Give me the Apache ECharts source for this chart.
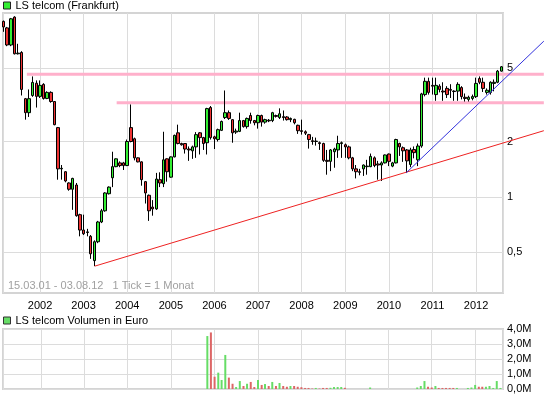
<!DOCTYPE html>
<html>
<head>
<meta charset="utf-8">
<title>LS telcom (Frankfurt)</title>
<script src="https://cdn.jsdelivr.net/npm/echarts@6/dist/echarts.min.js"></script>
<style>
  html, body { margin: 0; padding: 0; background: #fff; }
  #chart { width: 545px; height: 398px; }
</style>
</head>
<body>
<div id="chart"></div>
<script>
// one candle per month, first one is March 2001
const firstYear = 2001;
const firstMonth = 3;

// [open, close, low, high]
const candles = [
  // 2001 (Mar - Dec)
  [9.0, 8.4, 7.9, 9.1], [8.3, 6.7, 6.6, 8.4], [6.7, 9.3, 6.6, 9.4], [9.5, 6.0, 5.95, 9.6],
  [6.0, 6.05, 5.95, 6.8], [6.1, 3.84, 3.56, 6.2], [3.42, 2.87, 2.63, 3.45], [2.87, 3.42, 2.72, 3.84],
  [3.56, 4.19, 3.5, 4.52], [4.15, 3.52, 3.06, 4.3],
  // 2002
  [3.52, 4.04, 3.45, 4.3], [4.09, 3.43, 3.38, 4.15], [3.43, 3.7, 3.4, 3.75], [3.7, 3.3, 3.25, 3.75],
  [3.3, 2.47, 2.45, 3.32], [2.38, 1.42, 1.24, 2.4], [1.42, 1.43, 1.24, 1.49], [1.37, 1.22, 1.2, 1.38],
  [1.19, 1.1, 1.08, 1.2], [1.1, 1.26, 0.85, 1.27], [1.16, 0.79, 0.78, 1.19], [0.8, 0.66, 0.61, 0.81],
  // 2003
  [0.66, 0.63, 0.62, 0.8], [0.64, 0.645, 0.61, 0.67], [0.61, 0.49, 0.46, 0.62], [0.45, 0.57, 0.42, 0.58],
  [0.57, 0.73, 0.56, 0.74], [0.73, 0.84, 0.72, 0.86], [0.84, 1.05, 0.83, 1.06], [1.04, 1.13, 1.03, 1.14],
  [1.27, 1.46, 1.13, 1.76], [1.46, 1.61, 1.45, 1.62], [1.53, 1.48, 1.45, 1.56], [1.53, 1.48, 1.4, 1.55],
  // 2004
  [1.48, 2.0, 1.47, 2.05], [2.38, 2.0, 1.98, 3.18], [2.07, 1.63, 1.58, 2.1], [1.63, 1.55, 1.54, 1.64],
  [1.55, 1.24, 1.15, 1.56], [1.21, 1.05, 0.92, 1.22], [1.02, 0.84, 0.74, 1.03], [0.88, 0.86, 0.79, 0.96],
  [0.86, 1.25, 0.85, 1.35], [1.24, 1.19, 1.13, 1.36], [1.18, 1.59, 1.13, 2.26], [1.61, 1.37, 1.21, 1.62],
  // 2005
  [1.28, 1.65, 1.27, 1.66], [1.65, 2.16, 1.64, 2.18], [2.23, 1.95, 1.93, 2.47], [1.95, 1.92, 1.9, 1.97],
  [1.95, 1.82, 1.72, 1.96], [1.82, 1.8, 1.57, 1.88], [1.78, 1.87, 1.61, 1.9], [1.87, 2.18, 1.63, 2.25],
  [2.23, 2.1, 1.7, 2.25], [2.1, 1.95, 1.8, 2.12], [1.97, 3.02, 1.7, 3.05], [3.06, 2.1, 2.05, 3.12],
  // 2006
  [2.12, 2.07, 1.82, 2.15], [2.05, 2.32, 2.0, 2.35], [2.3, 2.57, 2.28, 2.6], [2.7, 2.87, 2.65, 3.79],
  [2.87, 2.67, 2.62, 2.95], [2.63, 2.23, 1.97, 2.65], [2.25, 2.28, 2.2, 2.35], [2.27, 2.6, 2.25, 2.87],
  [2.6, 2.41, 2.38, 2.62], [2.41, 2.67, 2.35, 2.7], [2.77, 2.6, 2.5, 2.87], [2.6, 2.53, 2.45, 2.62],
  // 2007
  [2.53, 2.77, 2.35, 2.8], [2.77, 2.55, 2.41, 2.8], [2.55, 2.63, 2.5, 2.66], [2.61, 2.59, 2.55, 2.65],
  [2.6, 2.87, 2.55, 2.9], [2.77, 2.74, 2.7, 2.8], [2.7, 2.83, 2.65, 3.03], [2.73, 2.7, 2.6, 2.95],
  [2.72, 2.63, 2.6, 2.75], [2.63, 2.67, 2.55, 2.7], [2.64, 2.53, 2.48, 2.66], [2.45, 2.29, 2.2, 2.47],
  // 2008
  [2.29, 2.27, 2.18, 2.63], [2.26, 2.22, 2.17, 2.3], [2.18, 2.05, 1.83, 2.2], [2.02, 2.0, 1.92, 2.12],
  [2.0, 2.01, 1.9, 2.1], [1.97, 1.95, 1.8, 2.0], [1.95, 1.58, 1.55, 1.97], [1.58, 1.56, 1.32, 1.8],
  [1.56, 1.8, 1.38, 1.82], [1.76, 1.82, 1.44, 1.85], [1.8, 1.95, 1.63, 2.15], [1.95, 1.97, 1.63, 2.0],
  // 2009
  [1.92, 1.87, 1.63, 1.95], [1.87, 1.63, 1.6, 1.9], [1.63, 1.42, 1.38, 1.65], [1.42, 1.37, 1.26, 1.49],
  [1.37, 1.36, 1.31, 1.42], [1.42, 1.49, 1.3, 1.5], [1.46, 1.47, 1.32, 1.59], [1.46, 1.66, 1.45, 1.72],
  [1.63, 1.48, 1.45, 1.66], [1.51, 1.49, 1.24, 1.57], [1.49, 1.53, 1.22, 1.56], [1.53, 1.69, 1.52, 1.7],
  // 2010
  [1.71, 1.56, 1.47, 1.72], [1.47, 1.53, 1.45, 1.55], [1.53, 2.05, 1.52, 2.07], [1.95, 1.87, 1.67, 1.97],
  [1.85, 1.78, 1.55, 1.88], [1.8, 1.57, 1.35, 1.82], [1.5, 1.8, 1.45, 1.85], [1.81, 1.74, 1.62, 1.88],
  [1.59, 1.89, 1.47, 1.95], [1.89, 3.63, 1.85, 3.68], [3.6, 4.25, 3.52, 4.45], [4.25, 3.7, 3.6, 4.45],
  // 2011
  [4.04, 4.0, 3.6, 4.45], [3.6, 4.04, 3.33, 4.45], [4.0, 3.84, 3.7, 4.1], [3.76, 3.72, 3.33, 4.2],
  [3.89, 3.6, 3.45, 4.0], [3.84, 3.8, 3.45, 4.1], [3.76, 3.74, 3.33, 3.8], [3.76, 4.09, 3.33, 4.2],
  [3.93, 3.51, 3.39, 4.0], [3.48, 3.43, 3.3, 3.65], [3.39, 3.48, 3.3, 3.55], [3.43, 3.51, 3.35, 3.6],
  // 2012 (Jan - Aug)
  [3.51, 4.14, 3.45, 4.45], [4.4, 4.2, 4.1, 4.52], [4.2, 3.89, 3.72, 4.45], [3.7, 3.8, 3.6, 3.89],
  [3.7, 4.2, 3.6, 4.25], [4.14, 4.2, 3.75, 4.35], [4.2, 4.83, 4.15, 4.9], [4.83, 5.1, 4.8, 5.15]
];

// monthly volume in million euro, same months as candles
const volumeMio = [
  0, 0, 0, 0, 0, 0, 0, 0, 0, 0,
  0, 0, 0, 0, 0, 0, 0, 0, 0, 0, 0, 0,
  0, 0, 0, 0, 0, 0, 0, 0, 0, 0, 0, 0,
  0, 0, 0, 0, 0, 0, 0, 0, 0, 0, 0, 0,
  0, 0, 0, 0, 0, 0, 0, 0, 0, 0, 3.53, 3.77,
  0.82, 1.09, 0.6, 2.27, 0.76, 0.35, 0.13, 0.53, 0.2, 0.35, 0.47, 0.13,
  0.6, 0.27, 0.33, 0.2, 0.47, 0.2, 0.4, 0.2, 0.15, 0.2, 0.2, 0.15,
  0.12, 0.07, 0.07, 0.03, 0.07, 0.03, 0.07, 0.07, 0.08, 0.13, 0.13, 0.13,
  0.08, 0, 0, 0, 0, 0, 0, 0.1, 0, 0, 0, 0,
  0, 0, 0, 0, 0, 0, 0, 0, 0.1, 0.2, 0.53, 0.15,
  0.1, 0.2, 0.07, 0.07, 0.07, 0.07, 0.07, 0.07, 0, 0, 0.07, 0.1,
  0.27, 0.15, 0.15, 0.15, 0.2, 0.07, 0.53, 0.07
];

const priceTicks = [0.5, 1, 2, 5];
const volumeTicks = [0, 1, 2, 3, 4];

// drawn trend lines: [start date, start price, end date, end price]
const resistanceUpper = ['2001-09-13', 4.64, '2013-07-22', 4.64];
const resistanceLower = ['2003-10-05', 3.25, '2013-07-22', 3.25];
const supportLong = ['2003-04-05', 0.42, '2013-07-22', 2.29];
const supportShort = ['2010-05-26', 1.35, '2013-07-22', 7.03];

const months = candles.map((c, i) => {
  const k = firstMonth - 1 + i;
  const y = firstYear + Math.floor(k / 12);
  const m = (k % 12) + 1;
  return y + '-' + String(m).padStart(2, '0') + '-01';
});

const YEAR = 365.25 * 24 * 3600 * 1000;
const UP = '#33ee33';
const DOWN = '#ee3333';
const GRID_LINE = '#dcdcdc';

const toTime = (s) => (echarts.time && echarts.time.parse)
  ? +echarts.time.parse(s)
  : +new Date(s + 'T00:00:00');

const chart = echarts.init(document.getElementById('chart'), null, { renderer: 'canvas' });

const timeAxis = (gridIndex, showLabels) => ({
  type: 'time',
  gridIndex,
  min: '2001-02-25',
  max: '2012-08-14',
  minInterval: YEAR,
  maxInterval: YEAR,
  splitNumber: 11,
  axisLine: { show: false },
  axisTick: { show: false },
  axisLabel: {
    show: showLabels,
    formatter: '{yyyy}',
    fontSize: 11,
    color: '#000',
    margin: 7,
    showMinLabel: false,
    showMaxLabel: false
  },
  splitLine: { show: true, lineStyle: { color: GRID_LINE, width: 1 } }
});

// trend lines run past the right edge of the plot, like the drawn ones in the picture
const trendLine = (line, color, width, z) => ({
  type: 'custom',
  xAxisIndex: 0,
  yAxisIndex: 0,
  clip: false,
  silent: true,
  z,
  encode: { x: [0, 2], y: [1, 3] },
  data: [[toTime(line[0]), line[1], toTime(line[2]), line[3]]],
  renderItem: (params, api) => {
    const a = api.coord([api.value(0), api.value(1)]);
    const b = api.coord([api.value(2), api.value(3)]);
    return {
      type: 'line',
      shape: { x1: a[0], y1: a[1], x2: b[0], y2: b[1] },
      style: { stroke: color, lineWidth: width }
    };
  }
});

chart.setOption({
  animation: false,
  backgroundColor: '#fff',
  textStyle: { fontFamily: 'Liberation Sans, Arial, sans-serif' },
  title: {
    text: '15.03.01 - 03.08.12   1 Tick = 1 Monat',
    left: 8,
    top: 280,
    padding: 0,
    textStyle: { fontSize: 11, fontWeight: 'normal', color: '#a0a0a0' }
  },
  legend: [
    {
      left: 3, top: 0, padding: 0,
      itemWidth: 7, itemHeight: 7,
      selectedMode: false,
      textStyle: { fontSize: 11, color: '#000' },
      data: [{ name: 'LS telcom (Frankfurt)', icon: 'rect',
        itemStyle: { color: UP, borderColor: '#222', borderWidth: 1 } }]
    },
    {
      left: 3, top: 315, padding: 0,
      itemWidth: 7, itemHeight: 7,
      selectedMode: false,
      textStyle: { fontSize: 11, color: '#000' },
      data: [{ name: 'LS telcom Volumen in Euro', icon: 'rect',
        itemStyle: { color: '#66dd66', borderColor: '#333', borderWidth: 1 } }]
    }
  ],
  grid: [
    { left: 3, top: 13, width: 500, height: 280, show: true, borderColor: '#d4d4d4', borderWidth: 2 },
    { left: 3, top: 329, width: 500, height: 60, show: true, borderColor: '#d4d4d4', borderWidth: 2 }
  ],
  xAxis: [timeAxis(0, true), timeAxis(1, false)],
  yAxis: [
    {
      type: 'log',
      logBase: 10,
      gridIndex: 0,
      position: 'right',
      min: 0.3,
      max: 10,
      axisLine: { show: false },
      axisTick: { show: false, customValues: priceTicks },
      axisLabel: {
        customValues: priceTicks,
        formatter: (v) => String(v).replace('.', ','),
        fontSize: 11,
        color: '#000',
        margin: 4
      },
      splitLine: { show: true, lineStyle: { color: GRID_LINE, width: 1 } }
    },
    {
      type: 'value',
      gridIndex: 1,
      position: 'right',
      min: 0,
      max: 4,
      interval: 1,
      axisLine: { show: false },
      axisTick: { show: false, customValues: volumeTicks },
      axisLabel: {
        customValues: volumeTicks,
        formatter: (v) => v.toFixed(1).replace('.', ',') + 'M',
        fontSize: 11,
        color: '#000',
        margin: 4
      },
      splitLine: { show: true, lineStyle: { color: GRID_LINE, width: 1 } }
    }
  ],
  series: [
    trendLine(resistanceUpper, '#ffb0cb', 3, 1),
    trendLine(resistanceLower, '#ffb0cb', 3, 1),
    {
      name: 'LS telcom (Frankfurt)',
      type: 'candlestick',
      xAxisIndex: 0,
      yAxisIndex: 0,
      z: 2,
      clip: false,
      barWidth: 3,
      data: months.map((m, i) => [m, ...candles[i]]),
      itemStyle: {
        color: UP,
        color0: DOWN,
        borderColor: '#000',
        borderColor0: '#000',
        borderColorDoji: '#000',
        borderWidth: 1
      }
    },
    trendLine(supportLong, '#ee2222', 1, 3),
    trendLine(supportShort, '#3333dd', 1, 3),
    {
      name: 'LS telcom Volumen in Euro',
      type: 'bar',
      xAxisIndex: 1,
      yAxisIndex: 1,
      barWidth: 2,
      data: months.map((m, i) => ({
        value: [m, volumeMio[i]],
        itemStyle: { color: candles[i][1] >= candles[i][0] ? '#66dd66' : '#dd6666' }
      }))
    }
  ]
});
</script>
</body>
</html>
